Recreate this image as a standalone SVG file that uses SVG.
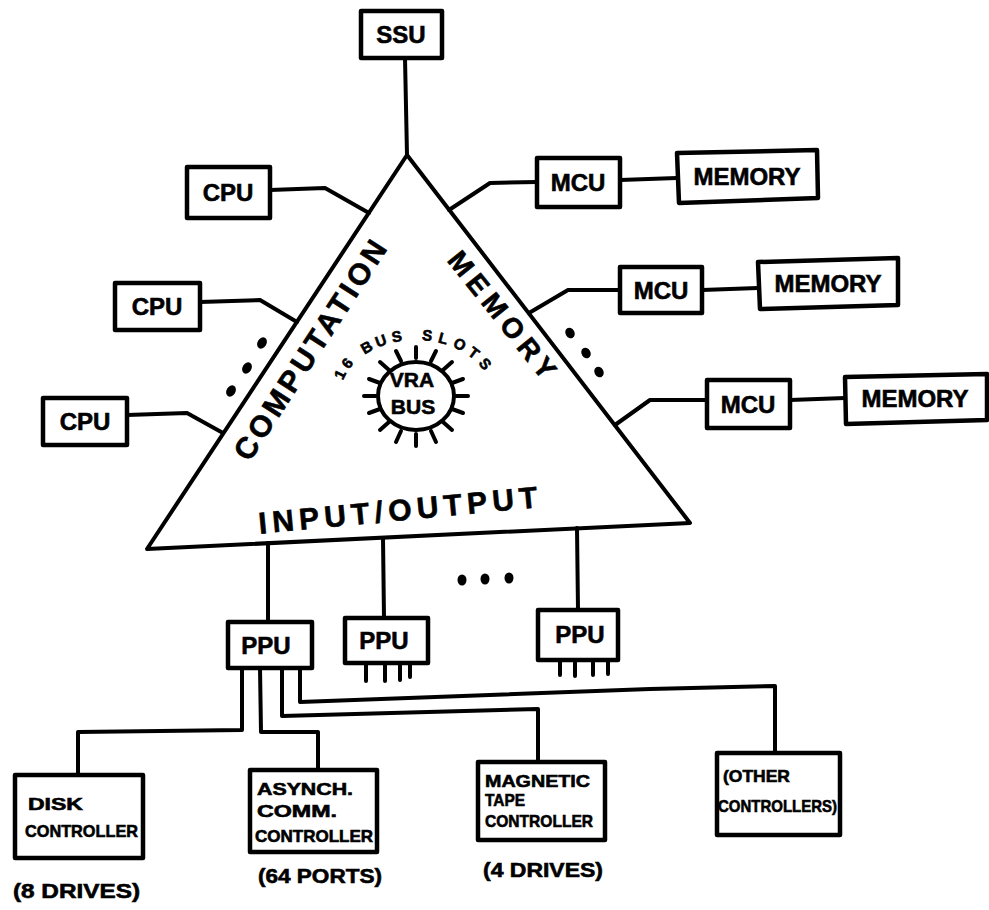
<svg xmlns="http://www.w3.org/2000/svg" width="989" height="910" viewBox="0 0 989 910">
<style>
.ln{stroke:#000;stroke-width:4;fill:none;stroke-linecap:round;stroke-linejoin:round}
.box{fill:#fff;stroke:#000;stroke-width:4.5;stroke-linejoin:round}
.t{font-family:"Liberation Sans",Arial,sans-serif;font-weight:bold;fill:#000;stroke:#000;stroke-width:0.6}
.n{font-size:24px;text-anchor:middle}
.s{font-size:17px}
.lbl{font-size:20px}
.big{font-size:30px;text-anchor:middle;dominant-baseline:central}
.sl{font-size:15px;text-anchor:middle}
.dot{fill:#000}
</style>
<rect width="989" height="910" fill="#fff"/>

<g id="connectors">
<path class="ln" d="M405,58 L407,155"/>
<path class="ln" d="M270,190 L325,188 L369,213"/>
<path class="ln" d="M200,302 L260,300 L297,322"/>
<path class="ln" d="M127,415 L187,413 L223,433"/>
<path class="ln" d="M449,210 L490,183 L537,182"/>
<path class="ln" d="M529,313 L568,290 L620,290"/>
<path class="ln" d="M615,425 L650,400 L707,400"/>
<path class="ln" d="M620,180 L677,178"/>
<path class="ln" d="M702,290 L758,288"/>
<path class="ln" d="M790,400 L845,398"/>
<path class="ln" d="M268,543 L268,622"/>
<path class="ln" d="M383,538 L384,618"/>
<path class="ln" d="M577,528 L578,610"/>
<path class="ln" d="M242,668 L242,730 L78,732 L78,775"/>
<path class="ln" d="M260,668 L261,732 L318,732 L318,770"/>
<path class="ln" d="M282,668 L282,716 L538,709 L538,762"/>
<path class="ln" d="M300,668 L300,702 L650,689 L775,686 L775,753"/>
</g>

<g id="triangle">
<polygon class="ln" points="407,155 690,523 147,549"/>
<text class="t big" transform="translate(310,350) rotate(-57.1)" textLength="255">COMPUTATION</text>
<text class="t big" style="font-size:28px" transform="translate(502,315) rotate(51.3)" textLength="155">MEMORY</text>
<text class="t big" transform="translate(398,510) rotate(-5.4)" textLength="280">INPUT/OUTPUT</text>
<ellipse class="dot" cx="262" cy="343" rx="4.5" ry="6" transform="rotate(30 262 343)"/>
<ellipse class="dot" cx="247" cy="368" rx="4.5" ry="6" transform="rotate(30 247 368)"/>
<ellipse class="dot" cx="231" cy="391" rx="4.5" ry="6" transform="rotate(30 231 391)"/>
<ellipse class="dot" cx="570" cy="333" rx="4.5" ry="5.5" transform="rotate(-30 570 333)"/>
<ellipse class="dot" cx="586" cy="353" rx="4.5" ry="5.5" transform="rotate(-30 586 353)"/>
<ellipse class="dot" cx="599" cy="372" rx="4.5" ry="5.5" transform="rotate(-30 599 372)"/>
</g>

<g id="vra-bus">
<ellipse class="ln" cx="416" cy="396" rx="38" ry="34"/>
<g class="ln" stroke-width="3.2">
<path d="M416,358 L416,347"/>
<path d="M431,361 L436,351"/>
<path d="M443,370 L452,362"/>
<path d="M452,383 L463,379"/>
<path d="M456,396 L468,396"/>
<path d="M452,409 L463,413"/>
<path d="M443,422 L452,430"/>
<path d="M431,431 L436,442"/>
<path d="M416,434 L416,446"/>
<path d="M401,431 L396,442"/>
<path d="M389,422 L380,430"/>
<path d="M380,409 L369,413"/>
<path d="M376,396 L364,396"/>
<path d="M380,383 L369,379"/>
<path d="M389,370 L380,362"/>
<path d="M401,361 L396,351"/>
</g>
<text class="t" style="font-size:21px" x="412" y="387" text-anchor="middle">VRA</text>
<text class="t" style="font-size:21px" x="413" y="414" text-anchor="middle">BUS</text>
<g id="bus-slots-label">
<text class="t sl" transform="translate(344.6,376.8) rotate(-63.7)">1</text>
<text class="t sl" transform="translate(351.2,366.5) rotate(-51.9)">6</text>
<text class="t sl" transform="translate(369.2,351.9) rotate(-29.9)">B</text>
<text class="t sl" transform="translate(382.7,345.7) rotate(-19.7)">U</text>
<text class="t sl" transform="translate(397.6,341.7) rotate(-10.4)">S</text>
<text class="t sl" transform="translate(426.6,340.6) rotate(5.9)">S</text>
<text class="t sl" transform="translate(442,343.4) rotate(15)">L</text>
<text class="t sl" transform="translate(457.4,349) rotate(25.6)">O</text>
<text class="t sl" transform="translate(470.7,357.1) rotate(37.4)">T</text>
<text class="t sl" transform="translate(481.1,367.2) rotate(50.8)">S</text>
</g>
</g>

<g id="ssu"><rect class="box" x="361" y="11" width="81" height="47"/><text class="t n" x="401" y="43">SSU</text></g>
<g id="cpu1"><rect class="box" x="187" y="167" width="83" height="51"/><text class="t n" x="228" y="201">CPU</text></g>
<g id="cpu2"><rect class="box" x="115" y="283" width="85" height="47"/><text class="t n" x="157" y="315">CPU</text></g>
<g id="cpu3"><rect class="box" x="43" y="398" width="84" height="47"/><text class="t n" x="85" y="430">CPU</text></g>
<g id="mcu1"><rect class="box" x="537" y="158" width="83" height="49"/><text class="t n" x="578" y="191">MCU</text></g>
<g id="memory1"><polygon class="box" points="677,153 817,150 818,198 679,203"/><text class="t n" x="747" y="185">MEMORY</text></g>
<g id="mcu2"><rect class="box" x="620" y="267" width="82" height="46"/><text class="t n" x="661" y="299">MCU</text></g>
<g id="memory2"><polygon class="box" points="758,262 898,258 898,305 760,309"/><text class="t n" x="828" y="292">MEMORY</text></g>
<g id="mcu3"><rect class="box" x="707" y="380" width="83" height="48"/><text class="t n" x="748" y="413">MCU</text></g>
<g id="memory3"><polygon class="box" points="845,377 987,374 987,420 846,424"/><text class="t n" x="915" y="407">MEMORY</text></g>

<g id="ppu1"><rect class="box" x="228" y="622" width="84" height="46"/><text class="t n" x="266" y="654">PPU</text></g>
<g id="ppu2"><rect class="box" x="345" y="618" width="83" height="45"/><text class="t n" x="384" y="649">PPU</text>
<path class="ln" d="M366,663 L366,681 M385,663 L385,681 M400,663 L400,680 M410,663 L410,677"/></g>
<g id="ppu3"><rect class="box" x="538" y="610" width="80" height="50"/><text class="t n" x="580" y="643">PPU</text>
<path class="ln" d="M560,660 L560,675 M575,660 L575,676 M593,660 L593,675 M608,660 L608,674"/></g>
<g id="more-ppu">
<ellipse class="dot" cx="462" cy="580" rx="4.5" ry="5.5"/>
<ellipse class="dot" cx="485" cy="579" rx="4.5" ry="5.5"/>
<ellipse class="dot" cx="509" cy="578" rx="4.5" ry="5.5"/>
</g>

<g id="disk"><rect class="box" x="15" y="775" width="128" height="83"/>
<text class="t s" x="28" y="810" textLength="55" lengthAdjust="spacingAndGlyphs">DISK</text>
<text class="t s" x="25" y="837" textLength="113" lengthAdjust="spacingAndGlyphs">CONTROLLER</text>
<text class="t lbl" x="13" y="898" textLength="127" lengthAdjust="spacingAndGlyphs">(8 DRIVES)</text></g>
<g id="asynch"><rect class="box" x="250" y="770" width="127" height="82"/>
<text class="t s" x="257" y="795" textLength="96" lengthAdjust="spacingAndGlyphs">ASYNCH.</text>
<text class="t s" x="257" y="817" textLength="80" lengthAdjust="spacingAndGlyphs">COMM.</text>
<text class="t s" x="255" y="842" textLength="118" lengthAdjust="spacingAndGlyphs">CONTROLLER</text>
<text class="t lbl" x="258" y="883" textLength="124" lengthAdjust="spacingAndGlyphs">(64 PORTS)</text></g>
<g id="magnetic"><rect class="box" x="478" y="762" width="127" height="78"/>
<text class="t s" x="485" y="787" textLength="105" lengthAdjust="spacingAndGlyphs">MAGNETIC</text>
<text class="t s" x="485" y="806" textLength="40" lengthAdjust="spacingAndGlyphs">TAPE</text>
<text class="t s" x="485" y="827" textLength="108" lengthAdjust="spacingAndGlyphs">CONTROLLER</text>
<text class="t lbl" x="483" y="877" textLength="120" lengthAdjust="spacingAndGlyphs">(4 DRIVES)</text></g>
<g id="other"><rect class="box" x="717" y="753" width="123" height="82"/>
<text class="t s" x="723" y="782" textLength="67" lengthAdjust="spacingAndGlyphs">(OTHER</text>
<text class="t s" x="718" y="812" textLength="119" lengthAdjust="spacingAndGlyphs">CONTROLLERS)</text></g>
</svg>
